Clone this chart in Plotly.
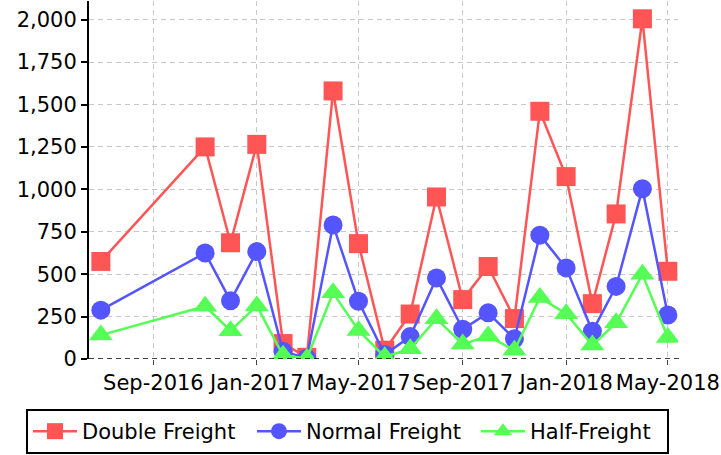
import plotly.graph_objects as go

months = ['2016-07-01', '2016-11-01', '2016-12-01', '2017-01-01', '2017-02-01',
          '2017-03-01', '2017-04-01', '2017-05-01', '2017-06-01', '2017-07-01',
          '2017-08-01', '2017-09-01', '2017-10-01', '2017-11-01', '2017-12-01',
          '2018-01-01', '2018-02-01', '2018-03-01', '2018-04-01', '2018-05-01']

double_freight = [575, 1250, 685, 1265, 91, 10, 1580, 680, 52, 265,
                  955, 350, 545, 238, 1460, 1075, 326, 855, 2005, 517]
normal_freight = [288, 625, 343, 633, 45, 5, 790, 340, 26, 132,
                  478, 175, 272, 119, 730, 537, 163, 428, 1003, 259]
half_freight = [141, 311, 167, 313, 22, 3, 390, 168, 13, 60,
                237, 88, 135, 52, 362, 267, 82, 213, 499, 126]

series = [
    ("Double Freight", double_freight, "#FF5555", "square", 19, 165),
    ("Normal Freight", normal_freight, "#5555FF", "circle", 19, 165),
    ("Half-Freight", half_freight, "#55FF55", "triangle-up", 21, 132),
]

fig = go.Figure()
for name, vals, color, sym, size, lw in series:
    fig.add_trace(go.Scatter(
        x=months, y=vals, name=name, mode="lines+markers",
        line=dict(color=color, width=2.5),
        marker=dict(color=color, symbol=sym, size=size),
        legendwidth=lw,
    ))

font_family = "DejaVu Sans"
fs = 21
fig.update_layout(
    width=721, height=455,
    margin=dict(l=89, r=38, t=1, b=96),
    paper_bgcolor="white", plot_bgcolor="white",
    font=dict(family=font_family, size=fs, color="black"),
    showlegend=True,
    legend=dict(
        orientation="h", xref="paper", yref="paper",
        x=-0.107, xanchor="left", y=-0.1397, yanchor="top",
        bordercolor="black", borderwidth=2, bgcolor="white",
        font=dict(family=font_family, size=fs, color="black"),
        itemwidth=44,
    ),
    shapes=[dict(type="line", xref="paper", yref="y", x0=0, x1=1.005, y0=0, y1=0,
                 line=dict(color="black", width=1.5, dash="5px,4px"), layer="above")],
)
fig.update_xaxes(
    type="date", range=["2016-06-17", "2018-05-13"],
    tick0="2016-09-01", dtick="M4", tickformat="%b-%Y", tickangle=0,
    showgrid=True, gridcolor="#C8C8C8", gridwidth=1, griddash="5px,4px",
    ticks="outside", ticklen=5, tickwidth=1, tickcolor="#444444",
    showline=False, zeroline=False, ticklabeloverflow="allow",
    tickfont=dict(family=font_family, size=fs, color="black"),
)
fig.update_yaxes(
    range=[0, 2110], dtick=250, tick0=0, tickformat=",d",
    showgrid=True, gridcolor="#C8C8C8", gridwidth=1, griddash="5px,4px",
    ticks="outside", ticklen=6, tickwidth=2, tickcolor="black",
    showline=True, linecolor="black", linewidth=2, zeroline=False,
    tickfont=dict(family=font_family, size=fs, color="black"),
    ticklabelstandoff=0,
)

fig.write_html("out.html", config={"displayModeBar": False},
               post_script="document.body.style.margin='0px';")
